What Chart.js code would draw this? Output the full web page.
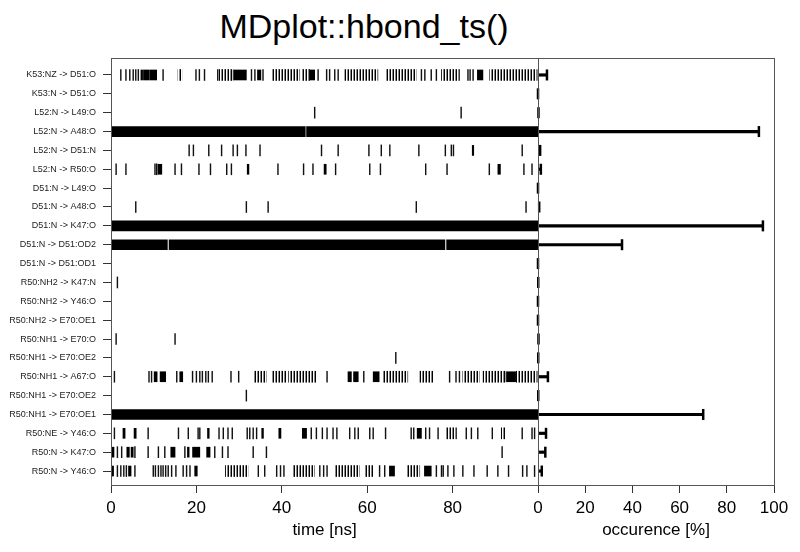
<!DOCTYPE html>
<html>
<head>
<meta charset="utf-8">
<script src="https://cdn.jsdelivr.net/npm/chart.js@4.4.1/dist/chart.umd.min.js"></script>
<style>
  html, body { margin: 0; padding: 0; background: #fff; }
  #wrap { position: relative; width: 800px; height: 552px; overflow: hidden; }
  #title {
    position: absolute; left: 0; top: 9px; width: 728px; text-align: center;
    font: 34px/34px "Liberation Sans", Arial, sans-serif; color: #000;
  }
  #tsChart { position: absolute; left: 0; top: 0; }
  #occChart { position: absolute; left: 520px; top: 0; }
</style>
</head>
<body>
<div id="wrap">
  <div id="title">MDplot::hbond_ts()</div>
  <canvas id="tsChart" width="545" height="552"></canvas>
  <canvas id="occChart" width="280" height="552"></canvas>
</div>
<script>
// rows, top to bottom
const hbondLabels = [
  'K53:NZ -> D51:O', 'K53:N -> D51:O', 'L52:N -> L49:O', 'L52:N -> A48:O',
  'L52:N -> D51:N', 'L52:N -> R50:O', 'D51:N -> L49:O', 'D51:N -> A48:O',
  'D51:N -> K47:O', 'D51:N -> D51:OD2', 'D51:N -> D51:OD1', 'R50:NH2 -> K47:N',
  'R50:NH2 -> Y46:O', 'R50:NH2 -> E70:OE1', 'R50:NH1 -> E70:O', 'R50:NH1 -> E70:OE2',
  'R50:NH1 -> A67:O', 'R50:NH1 -> E70:OE2', 'R50:NH1 -> E70:OE1', 'R50:NE -> Y46:O',
  'R50:N -> K47:O', 'R50:N -> Y46:O'
];

// occurrence in percent
const occurrence = [3.8, 0, 0.2, 93.6, 0.9, 1.2, 0, 0.5, 95.3, 35.6, 0, 0.1,
  0, 0, 0.2, 0.1, 4.2, 0.1, 70.0, 3.4, 3.1, 1.6];

// single hbond events (ns)
const eventTimes = [
  [2.3, 3.5, 4.4, 5.2, 5.8, 6.4, 12.2, 19.9, 20.7, 21.9, 25.0, 32.9, 33.7, 35.6, 48.5,
    50.5, 51.2, 52.4, 53.2, 72.7, 73.5, 75.0, 76.2, 83.6, 84.1, 84.8],
  [],
  [47.7, 82.0],
  [],
  [18.3, 19.3, 22.9, 25.9, 28.6, 29.6, 31.6, 34.9, 49.3, 53.2, 60.4, 63.3, 65.3, 72.1,
    78.3, 79.7, 80.2, 96.3],
  [1.2, 3.5, 10.3, 10.7, 15.0, 16.5, 20.6, 23.3, 27.1, 28.2, 39.1, 45.1, 47.3, 52.6,
    60.6, 63.1, 73.7, 78.7, 88.6, 96.7, 98.6],
  [],
  [5.8, 31.7, 36.8, 71.5, 97.2],
  [],
  [],
  [],
  [1.5],
  [],
  [],
  [1.2, 15.0],
  [66.7],
  [0.8, 8.9, 9.5, 15.4, 19.1, 20.0, 20.8, 21.4, 22.2, 22.8, 23.7, 28.1, 29.9, 50.6,
    59.2, 79.3, 80.8, 81.6],
  [31.7],
  [],
  [0.8, 8.7, 15.8, 18.1, 20.4, 20.8, 25.3, 26.3, 27.4, 28.4, 31.9, 32.5, 33.3, 34.1,
    46.9, 48.1, 49.5, 50.6, 52.0, 52.9, 55.9, 57.1, 57.9, 60.6, 61.4, 64.3, 70.3, 70.9,
    73.7, 74.6, 76.6, 83.2, 84.4, 85.9, 89.3, 96.3, 98.6, 99.2],
  [1.5, 2.5, 5.6, 8.7, 11.1, 12.6, 17.3, 24.3, 26.1, 27.4, 33.3, 36.4, 91.6],
  [1.5, 2.3, 3.0, 3.6, 5.6, 9.9, 10.4, 11.1, 11.7, 12.2, 12.8, 13.4, 14.2, 15.2, 16.9,
    17.7, 18.5, 34.5, 36.0, 38.8, 39.7, 40.5, 48.9, 49.8, 50.6, 62.9, 64.1, 76.2, 77.4,
    77.8, 78.9, 80.3, 82.4, 85.0, 88.1, 90.6, 93.1, 96.4, 97.4, 99.2]
];

// continuous stretches (ns)
const solidSpans = [
  [[7.0, 7.4], [7.6, 9.0], [9.2, 10.7], [28.6, 31.7], [34.3, 35.1], [46.5, 47.7], [85.8, 87.1]],
  [],
  [],
  [[0, 45.5], [45.8, 100]],
  [[84.6, 84.95]],
  [[11.0, 11.9], [31.9, 32.3], [49.9, 50.4], [90.6, 91.2]],
  [],
  [],
  [[0, 100]],
  [[0, 13.2], [13.6, 78.2], [78.6, 100]],
  [],
  [],
  [],
  [],
  [],
  [],
  [[10.1, 10.8], [11.5, 12.8], [16.1, 16.8], [55.5, 56.3], [56.8, 57.9], [61.4, 62.8], [92.5, 94.9]],
  [],
  [[0, 100]],
  [[2.8, 3.3], [5.4, 5.9], [22.6, 23.0], [35.3, 35.7], [39.3, 39.8], [44.8, 45.8], [71.7, 72.7]],
  [[0.1, 0.7], [3.7, 4.3], [4.7, 5.2], [14.0, 15.0], [17.9, 18.3], [19.1, 20.8], [22.4, 23.2]],
  [[0, 0.6], [4.1, 4.7], [19.6, 20.2], [65.2, 66.4], [73.4, 75.0]]
];

// stretches where the bond flickers on and off (ns)
const flickerSpans = [
  [[15.7, 16.6], [25.3, 28.6], [37.8, 44.2], [44.6, 46.5], [54.7, 62.5], [64.5, 71.5],
    [77.4, 81.6], [88.7, 99.8]],
  [], [], [], [], [], [], [], [], [], [], [], [], [], [], [],
  [[33.5, 36.4], [37.8, 40.9], [41.6, 48.1], [63.7, 69.5], [72.3, 75.4], [82.4, 86.3],
    [87.1, 92.5], [94.9, 99.8]],
  [],
  [],
  [[78.5, 80.9], [91.4, 92.2]],
  [],
  [[26.8, 32.1], [42.5, 47.7], [52.4, 58.2], [59.4, 61.4], [69.3, 72.3]]
];

const timeTicks = [0, 20, 40, 60, 80];
const occTicks = [0, 20, 40, 60, 80, 100];

const FONT = '"Liberation Sans", Arial, sans-serif';
const rowMin = -0.9;
const rowMax = 21.74;

// stripes for the flickering stretches
const stripe = document.createElement('canvas');
stripe.width = 3;
stripe.height = 1;
const sctx = stripe.getContext('2d');
sctx.fillStyle = '#000';
sctx.fillRect(0, 0, 1, 1);
sctx.fillStyle = '#888';
sctx.fillRect(2, 0, 1, 1);
const dense = sctx.createPattern(stripe, 'repeat');

const frame = {
  id: 'frame',
  afterDatasetsDraw(chart) {
    const { ctx, chartArea: a } = chart;
    ctx.save();
    ctx.strokeStyle = '#555';
    ctx.lineWidth = 1;
    ctx.strokeRect(a.left + 0.5, a.top + 0.5, a.right - a.left, a.bottom - a.top);
    ctx.restore();
  }
};

const rowScale = (showLabels) => ({
  type: 'linear',
  reverse: true,
  min: rowMin,
  max: rowMax,
  offset: false,
  display: showLabels,
  afterBuildTicks(scale) {
    scale.ticks = hbondLabels.map((_, i) => ({ value: i }));
  },
  afterFit(scale) {
    if (showLabels) scale.width = 111;
  },
  border: { display: false },
  grid: { offset: false, drawOnChartArea: false, drawTicks: true, tickLength: 8, color: '#333' },
  ticks: {
    autoSkip: false,
    padding: 7,
    color: '#222',
    font: { family: FONT, size: 9 },
    callback: (v) => hbondLabels[v] ?? ''
  }
});

const valueScale = (title, tickValues) => ({
  type: 'linear',
  min: 0,
  max: 100,
  afterBuildTicks(scale) {
    scale.ticks = tickValues.map((v) => ({ value: v }));
  },
  afterFit(scale) {
    scale.height = 67;
  },
  border: { display: false },
  grid: { drawOnChartArea: false, drawTicks: true, tickLength: 8, color: '#333' },
  ticks: { padding: 5, color: '#000', font: { family: FONT, size: 17 } },
  title: {
    display: true,
    text: title,
    color: '#000',
    font: { family: FONT, size: 17 },
    padding: { top: 0, bottom: 11 }
  }
});

const toPoints = (rows, fn) => rows.flatMap((list, i) => list.map((item) => fn(item, i)));

new Chart(document.getElementById('tsChart'), {
  type: 'bar',
  data: {
    datasets: [
      {
        data: toPoints(flickerSpans, (s, i) => ({ x: s, y: i })),
        backgroundColor: dense,
        barThickness: 11
      },
      {
        data: toPoints(solidSpans, (s, i) => ({ x: s, y: i })),
        backgroundColor: '#000',
        barThickness: 10
      },
      {
        data: toPoints(eventTimes, (t, i) => ({ x: [t - 0.09, t + 0.09], y: i })),
        backgroundColor: '#111',
        barThickness: 11
      }
    ]
  },
  options: {
    indexAxis: 'y',
    responsive: false,
    animation: false,
    grouped: false,
    layout: { padding: { top: 58, right: 7, bottom: 0, left: 0 } },
    plugins: { legend: { display: false }, tooltip: { enabled: false } },
    scales: {
      x: valueScale('time [ns]', timeTicks),
      y: rowScale(true)
    }
  },
  plugins: [frame]
});

new Chart(document.getElementById('occChart'), {
  type: 'bar',
  data: {
    datasets: [
      {
        data: occurrence.map((v, i) => ({ x: v, y: i })),
        backgroundColor: '#000',
        barThickness: 2.5
      },
      {
        type: 'scatter',
        data: occurrence.map((v, i) => ({ x: v, y: i })),
        pointStyle: 'line',
        rotation: 90,
        radius: 5.5,
        borderWidth: 2.5,
        borderColor: '#000',
        showLine: false,
        clip: false
      }
    ]
  },
  options: {
    indexAxis: 'y',
    responsive: false,
    animation: false,
    grouped: false,
    layout: { padding: { top: 58, right: 26, bottom: 0, left: 18 } },
    plugins: { legend: { display: false }, tooltip: { enabled: false } },
    scales: {
      x: valueScale('occurence [%]', occTicks),
      y: rowScale(false)
    }
  },
  plugins: [frame]
});
</script>
</body>
</html>
